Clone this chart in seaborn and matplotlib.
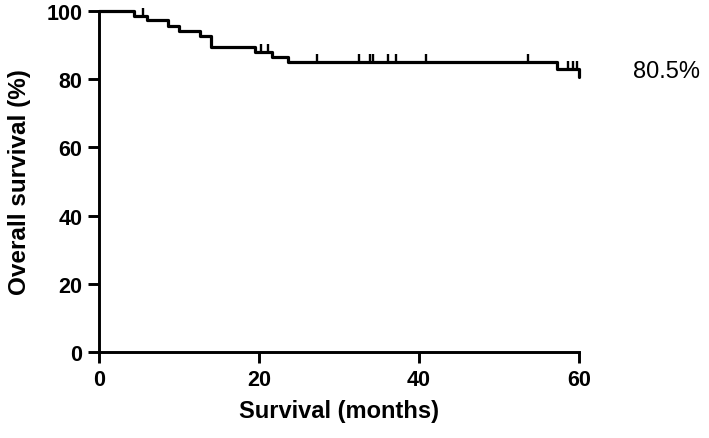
import pandas as pd
import seaborn as sns
import matplotlib.pyplot as plt

# Kaplan-Meier steps (months, % surviving)
event_months = [0, 4.4, 6.0, 8.6, 10.0, 12.6, 14.0, 19.5, 21.6, 23.6, 57.2, 60.0]
survival_pct = [100, 98.6, 97.2, 95.7, 94.2, 92.7, 89.5, 88.1, 86.6, 85.0, 83.0, 80.5]

# censored patients (tick marks)
censor_months = [5.5, 20.3, 21.1, 27.2, 32.5, 33.9, 34.3, 36.1, 37.1, 40.9, 53.6, 58.6, 59.2, 59.8]
censor_pct = [98.6, 88.1, 88.1, 85.0, 85.0, 85.0, 85.0, 85.0, 85.0, 85.0, 85.0, 83.0, 83.0, 83.0]

x_ticks = [0, 20, 40, 60]
y_ticks = [0, 20, 40, 60, 80, 100]
final_label = "80.5%"

km = pd.DataFrame({"months": event_months, "survival": survival_pct})
cens = pd.DataFrame({"months": censor_months, "survival": censor_pct})

sns.set_style("ticks")
plt.rcParams["font.family"] = ["Liberation Sans", "DejaVu Sans"]

fig = plt.figure(figsize=(7.09, 4.39), dpi=100)
ax = fig.add_axes([0.1396, 0.196, 0.677, 0.7768])

sns.lineplot(data=km, x="months", y="survival", ax=ax, color="black",
             linewidth=2.3, drawstyle="steps-post", clip_on=False)
sns.scatterplot(data=cens, x="months", y="survival", ax=ax, marker=2, s=34,
                color="black", linewidth=1.7, clip_on=False, zorder=3)

ax.set_xlim(0, 60)
ax.set_ylim(0, 100)
ax.set_xticks(x_ticks)
ax.set_yticks(y_ticks)
sns.despine(ax=ax)
for s in ["left", "bottom"]:
    ax.spines[s].set_linewidth(2.1)
    ax.spines[s].set_color("black")
ax.tick_params(width=2.1, length=8, labelsize=15.5, pad=4, color="black", labelcolor="black")
for lab in ax.get_xticklabels() + ax.get_yticklabels():
    lab.set_fontweight("bold")

ax.set_xlabel("Survival (months)", fontsize=17, fontweight="bold", labelpad=7, color="black")
ax.set_ylabel("Overall survival (%)", fontsize=17.5, fontweight="bold", labelpad=11, color="black")

ax.text(66.7, 82.4, final_label, fontsize=17, va="center", ha="left", clip_on=False, color="black")

fig.savefig("out.png", dpi=100)
